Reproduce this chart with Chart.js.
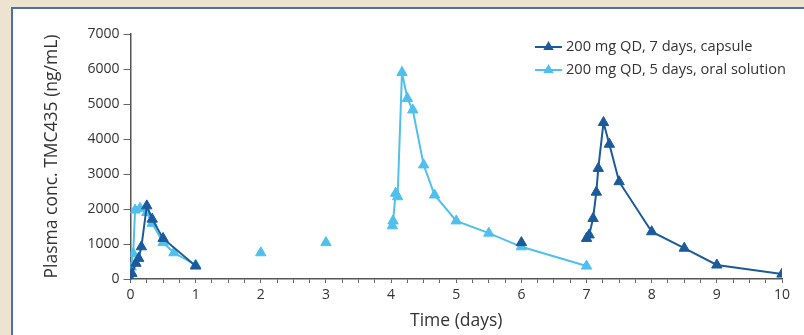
<!DOCTYPE html>
<html>
<head>
<meta charset="utf-8">
<script src="https://cdn.jsdelivr.net/npm/chart.js@4.4.1/dist/chart.umd.min.js"></script>
<style>
  html, body { margin: 0; padding: 0; }
  body { width: 804px; height: 335px; background: #ece4d1; position: relative; overflow: hidden; }
  #panel { position: absolute; left: 11px; top: 7px; width: 800px; height: 340px; background: #fff;
           border-left: 2px solid #4a6fb1; border-top: 2px solid #4a6fb1; }
  #wrap { position: absolute; left: 0; top: 0; width: 804px; height: 335px; }
</style>
</head>
<body>
<div id="panel"></div>
<div id="wrap"><canvas id="pk-chart" width="804" height="335"></canvas></div>
<script>
// Series names (legend)
const seriesNames = ["200 mg QD, 7 days, capsule", "200 mg QD, 5 days, oral solution"];
// Capsule: time (days) and concentration (ng/mL); null breaks the line
const capsuleDays = [0, 0.021, 0.083, 0.125, 0.167, 0.25, 0.333, 0.5, 1, 3.5, 6, 6.5,
  7, 7.04, 7.1, 7.15, 7.18, 7.26, 7.35, 7.5, 8, 8.5, 9, 10];
const capsuleConc = [0, 160, 450, 590, 920, 2090, 1710, 1160, 370, null, 1040, null,
  1160, 1260, 1730, 2480, 3160, 4470, 3850, 2780, 1350, 880, 400, 140];
// Oral solution
const solutionDays = [0.01, 0.042, 0.07, 0.146, 0.25, 0.333, 0.5, 0.667, 1, 1.5, 2, 2.5, 3, 3.5,
  4.02, 4.03, 4.07, 4.1, 4.167, 4.25, 4.333, 4.5, 4.667, 5, 5.5, 6, 7];
const solutionConc = [340, 730, 1970, 2020, 1900, 1590, 1040, 750, 400, null, 750, null, 1040, null,
  1520, 1660, 2450, 2350, 5900, 5160, 4830, 3260, 2400, 1660, 1310, 920, 370];
// Axis ticks
const yTicks = [0, 1000, 2000, 3000, 4000, 5000, 6000, 7000];

const darkBlue = "#1b5a9b";
const lightBlue = "#4fc0ec";
const textColor = "#333";
const fontFamily = "'Open Sans', sans-serif";

function toPoints(xs, ys) {
  return xs.map((x, i) => ({ x: x, y: ys[i] }));
}

// Legend drawn at the top right of the plot
const sideLegend = {
  id: "sideLegend",
  afterDraw(chart) {
    const ctx = chart.ctx;
    const colors = [darkBlue, lightBlue];
    ctx.save();
    seriesNames.forEach((name, i) => {
      const y = 47 + i * 23;
      ctx.strokeStyle = colors[i];
      ctx.fillStyle = colors[i];
      ctx.lineWidth = 2;
      ctx.beginPath();
      ctx.moveTo(535, y);
      ctx.lineTo(562, y);
      ctx.stroke();
      ctx.beginPath();
      ctx.moveTo(548.5, y - 6);
      ctx.lineTo(553.7, y + 3);
      ctx.lineTo(543.3, y + 3);
      ctx.closePath();
      ctx.fill();
      ctx.fillStyle = textColor;
      ctx.font = "14.6px " + fontFamily;
      ctx.textBaseline = "middle";
      ctx.fillText(name, 566, y);
    });
    ctx.restore();
  },
};

new Chart(document.getElementById("pk-chart"), {
  type: "scatter",
  data: {
    datasets: [
      {
        label: seriesNames[0],
        data: toPoints(capsuleDays, capsuleConc),
        showLine: true,
        borderColor: darkBlue,
        backgroundColor: darkBlue,
        borderWidth: 2,
        pointStyle: "triangle",
        pointRadius: 6,
        pointBorderWidth: 1,
        spanGaps: false,
      },
      {
        label: seriesNames[1],
        data: toPoints(solutionDays, solutionConc),
        showLine: true,
        borderColor: lightBlue,
        backgroundColor: lightBlue,
        borderWidth: 2,
        pointStyle: "triangle",
        pointRadius: 6,
        pointBorderWidth: 1,
        spanGaps: false,
      },
    ],
  },
  options: {
    responsive: false,
    animation: false,
    layout: { padding: { top: 34, right: 22, bottom: 0, left: 0 } },
    plugins: {
      legend: { display: false },
      tooltip: { enabled: false },
    },
    scales: {
      x: {
        type: "linear",
        min: 0,
        max: 10,
        afterFit: (s) => { s.height = 56; },
        ticks: {
          stepSize: 0.25,
          autoSkip: false,
          maxRotation: 0,
          padding: 4,
          color: textColor,
          font: { family: fontFamily, size: 14 },
          callback: (v) => (Number.isInteger(v) ? String(v) : ""),
        },
        grid: { drawOnChartArea: false, tickLength: 4, color: "#666", lineWidth: 1 },
        border: { color: "#555", width: 1.5 },
        title: {
          display: true,
          text: "Time (days)",
          color: textColor,
          font: { family: fontFamily, size: 17.5 },
          padding: { top: 4, bottom: 3 },
        },
      },
      y: {
        min: 0,
        max: 7000,
        afterFit: (s) => { s.width = 130.5; },
        afterBuildTicks: (s) => { s.ticks = yTicks.map((v) => ({ value: v })); },
        ticks: {
          padding: 4,
          color: textColor,
          font: { family: fontFamily, size: 14 },
          callback: (v) => String(v),
        },
        grid: { drawOnChartArea: false, tickLength: 7, color: "#666", lineWidth: 1 },
        border: { color: "#555", width: 1.5 },
        title: {
          display: true,
          text: "Plasma conc. TMC435 (ng/mL)",
          color: textColor,
          font: { family: fontFamily, size: 17.5 },
          padding: { top: 42, bottom: 0 },
        },
      },
    },
  },
  plugins: [sideLegend],
});
</script>
</body>
</html>
